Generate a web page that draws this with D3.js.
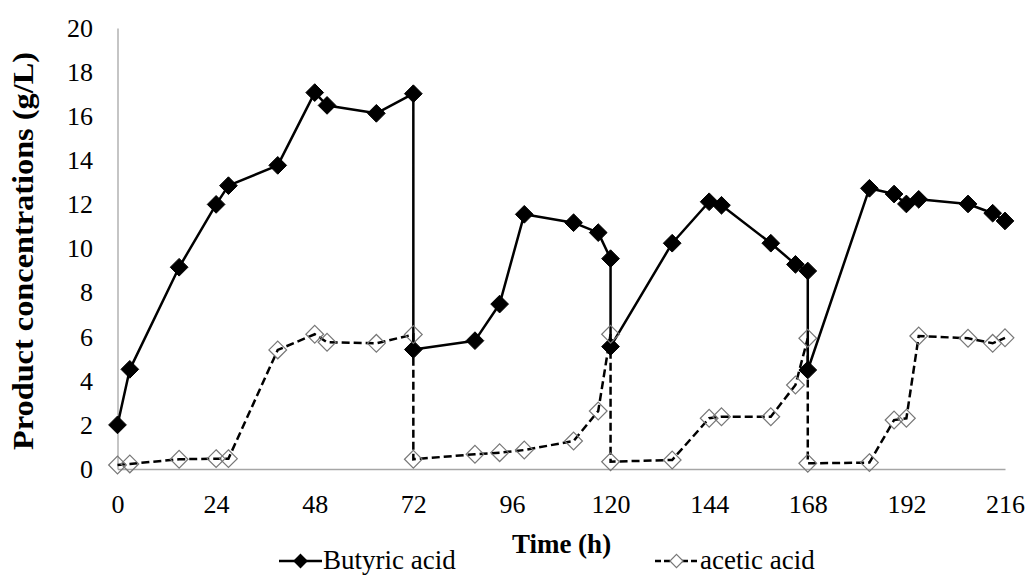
<!DOCTYPE html>
<html>
<head>
<meta charset="utf-8">
<script src="https://cdn.jsdelivr.net/npm/d3@7"></script>
<style>
  html, body { margin: 0; padding: 0; background: #fff; }
  svg { display: block; }
</style>
</head>
<body>
<svg id="chart" width="1030" height="575"></svg>
<script>
// Sampling times (h); repeated times mark the medium replacement at 72, 120 and 168 h
const timesH = [0, 3, 15, 24, 27, 39, 48, 51, 63, 72, 72, 87, 93, 99, 111, 117, 120, 120,
                135, 144, 147, 159, 165, 168, 168, 183, 189, 192, 195, 207, 213, 216];

// Product concentrations (g/L)
const butyricAcid = [2.0, 4.52, 9.15, 12.0, 12.85, 13.77, 17.07, 16.49, 16.13, 17.02, 5.42,
                     5.82, 7.48, 11.55, 11.17, 10.72, 9.54, 5.55, 10.24, 12.12, 11.96, 10.24,
                     9.28, 8.98, 4.49, 12.73, 12.47, 12.02, 12.23, 12.02, 11.6, 11.25];
const aceticAcid = [0.18, 0.23, 0.44, 0.47, 0.47, 5.4, 6.11, 5.75, 5.7, 6.1, 0.44,
                    0.67, 0.74, 0.86, 1.27, 2.63, 6.11, 0.33, 0.41, 2.3, 2.37, 2.37,
                    3.81, 5.93, 0.26, 0.29, 2.22, 2.3, 6.03, 5.93, 5.7, 5.95];

const xTicks = [0, 24, 48, 72, 96, 120, 144, 168, 192, 216];
const yTicks = [0, 2, 4, 6, 8, 10, 12, 14, 16, 18, 20];
const seriesNames = ["Butyric acid", "acetic acid"];

const FONT = "\"Liberation Serif\"";
const svg = d3.select("#chart");
const x = d3.scaleLinear().domain([0, 216]).range([117.5, 1005]);
const y = d3.scaleLinear().domain([0, 20]).range([469, 28]);
const axisGrey = "#a6a6a6";

// x axis
const gx = svg.append("g").attr("transform", `translate(0,${y(0)})`)
  .call(d3.axisBottom(x).tickValues(xTicks).tickSize(0).tickPadding(25.5).tickFormat(d3.format("d")));
gx.attr("font-family", null).attr("font-size", null);
gx.select(".domain").attr("stroke", axisGrey).attr("stroke-width", 1.3);
gx.selectAll("text").style("font-family", FONT).style("font-size", "26px").attr("fill", "#000");

// y axis
const gy = svg.append("g").attr("transform", `translate(${x(0)},0)`)
  .call(d3.axisLeft(y).tickValues(yTicks).tickSize(0).tickPadding(24.5).tickFormat(d3.format("d")));
gy.attr("font-family", null).attr("font-size", null);
gy.select(".domain").attr("stroke", axisGrey).attr("stroke-width", 1.3);
gy.selectAll("text").style("font-family", FONT).style("font-size", "26px").attr("fill", "#000");

// axis titles
svg.append("text")
  .attr("x", 561.5).attr("y", 553)
  .attr("text-anchor", "middle")
  .style("font-family", FONT).style("font-weight", "bold").style("font-size", "27px")
  .text("Time (h)");

svg.append("text")
  .attr("transform", "translate(33,251) rotate(-90)")
  .attr("text-anchor", "middle")
  .style("font-family", FONT).style("font-weight", "bold").style("font-size", "30px")
  .attr("textLength", 398).attr("lengthAdjust", "spacingAndGlyphs")
  .text("Product concentrations (g/L)");

const diamond = d3.symbol().type(d3.symbolDiamond2).size(200);

const line = d3.line().x(d => x(d[0])).y(d => y(d[1]));
const butyricPts = timesH.map((t, i) => [t, butyricAcid[i]]);
const aceticPts = timesH.map((t, i) => [t, aceticAcid[i]]);

// butyric acid: solid line, filled diamonds
svg.append("path").datum(butyricPts)
  .attr("d", line).attr("fill", "none").attr("stroke", "#000").attr("stroke-width", 2.5)
  .attr("stroke-linejoin", "round");
svg.append("g").selectAll("path").data(butyricPts).join("path")
  .attr("transform", d => `translate(${x(d[0])},${y(d[1])})`)
  .attr("d", diamond).attr("fill", "#000").attr("stroke", "#000").attr("stroke-width", 1);

// acetic acid: dashed line, open diamonds
svg.append("path").datum(aceticPts)
  .attr("d", line).attr("fill", "none").attr("stroke", "#000").attr("stroke-width", 2.5)
  .attr("stroke-dasharray", "8,4");
svg.append("g").selectAll("path").data(aceticPts).join("path")
  .attr("transform", d => `translate(${x(d[0])},${y(d[1])})`)
  .attr("d", diamond).attr("fill", "none").attr("stroke", "#777").attr("stroke-width", 1.2);

// legend
const legend = svg.append("g");
const legendItems = [
  { name: seriesNames[0], x0: 279, x1: 322, textX: 323, dash: null, fill: "#000", stroke: "#000" },
  { name: seriesNames[1], x0: 655, x1: 698, textX: 700, dash: "6,3", fill: "#fff", stroke: "#777" }
];
legendItems.forEach(item => {
  const cy = 561;
  legend.append("line")
    .attr("x1", item.x0).attr("x2", item.x1).attr("y1", cy).attr("y2", cy)
    .attr("stroke", "#000").attr("stroke-width", 2.5)
    .attr("stroke-dasharray", item.dash);
  legend.append("path")
    .attr("transform", `translate(${(item.x0 + item.x1) / 2},${cy})`)
    .attr("d", d3.symbol().type(d3.symbolDiamond2).size(110))
    .attr("fill", item.fill)
    .attr("stroke", item.stroke).attr("stroke-width", 1.2);
  legend.append("text")
    .attr("x", item.textX).attr("y", 569)
    .style("font-family", FONT).style("font-size", "27px")
    .text(item.name);
});
</script>
</body>
</html>
